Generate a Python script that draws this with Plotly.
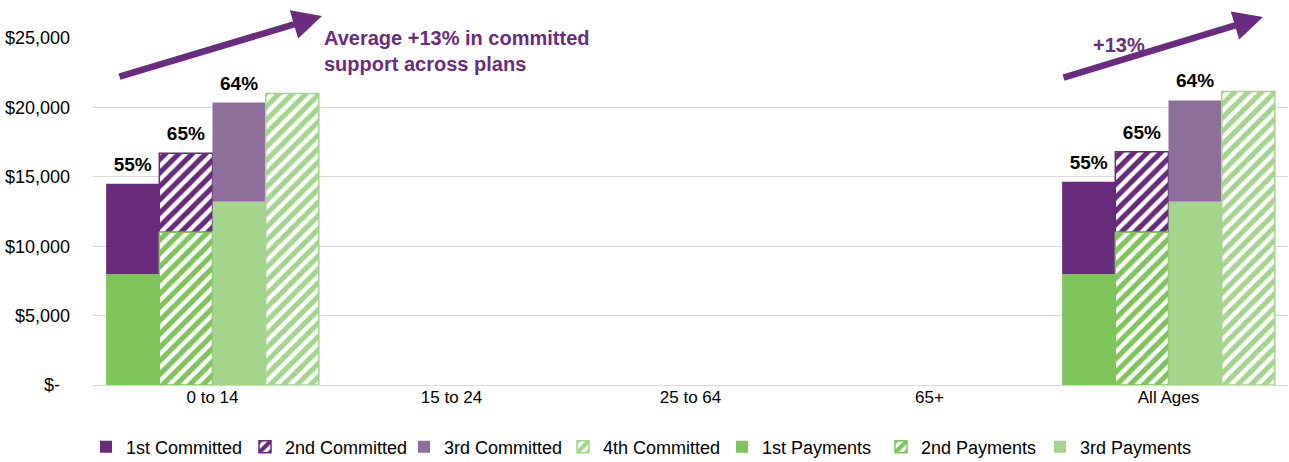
import plotly.graph_objects as go

categories = ["0 to 14", "15 to 24", "25 to 64", "65+", "All Ages"]
pay1 = [8000, None, None, None, 8000]
com1_total = [14500, None, None, None, 14650]
pay2 = [11000, None, None, None, 11000]
com2_total = [16700, None, None, None, 16800]
pay3 = [13200, None, None, None, 13200]
com3_total = [20350, None, None, None, 20500]
com4_total = [21000, None, None, None, 21150]
pct1 = ["55%", "", "", "", "55%"]
pct2 = ["65%", "", "", "", "65%"]
pct3 = ["64%", "", "", "", "64%"]
ytick_vals = [0, 5000, 10000, 15000, 20000, 25000]
ytick_text = ["$-  ", "$5,000", "$10,000", "$15,000", "$20,000", "$25,000"]

PURPLE = "#682A7B"
MAUVE = "#8E6F9C"
GREEN = "#7EC45A"
LGREEN = "#A5D48D"
FONT = "Liberation Sans, Arial, sans-serif"

# plot area: x 93..1288, y 38..385
W, H = 1289, 462
L, R, T, B = 93, 1, 38, 77
PW, PH = W - L - R, H - T - B
Y_MAX = 25000
LABEL_GAP_PX = 6  # extra gap between bar top and its % label
label_pad = LABEL_GAP_PX * Y_MAX / PH


def diff(top, base):
    return [None if t is None else t - b for t, b in zip(top, base)]


def hatch(color, line_color):
    return dict(color=color,
                pattern=dict(shape="/", fgcolor=color, fgopacity=1, bgcolor="white",
                             size=9.5, solidity=0.55),
                line=dict(color=line_color, width=1.5))


fig = go.Figure()
label_font = dict(family=FONT, size=19, color="black", weight="bold")

fig.add_bar(name="1st Committed", x=categories, y=diff(com1_total, pay1), base=pay1,
            offsetgroup="1", marker=dict(color=PURPLE, line=dict(width=0)))
fig.add_bar(name="2nd Committed", x=categories, y=diff(com2_total, pay2), base=pay2,
            offsetgroup="2", marker=hatch(PURPLE, PURPLE))
fig.add_bar(name="3rd Committed", x=categories, y=diff(com3_total, pay3), base=pay3,
            offsetgroup="3", marker=dict(color=MAUVE, line=dict(width=0)))
fig.add_bar(name="4th Committed", x=categories, y=com4_total,
            offsetgroup="4", marker=hatch(LGREEN, LGREEN))
fig.add_bar(name="1st Payments", x=categories, y=pay1,
            offsetgroup="1", marker=dict(color=GREEN, line=dict(width=0)))
fig.add_bar(name="2nd Payments", x=categories, y=pay2,
            offsetgroup="2", marker=hatch(GREEN, GREEN))
fig.add_bar(name="3rd Payments", x=categories, y=pay3,
            offsetgroup="3", marker=dict(color=LGREEN, line=dict(width=0)))

# transparent spacer bars carrying the percentage labels just above each committed bar
for grp, tops, txt in (("1", com1_total, pct1), ("2", com2_total, pct2), ("3", com3_total, pct3)):
    fig.add_bar(x=categories, y=[None if t is None else label_pad for t in tops], base=tops,
                offsetgroup=grp, showlegend=False, hoverinfo="skip",
                marker=dict(color="rgba(0,0,0,0)", line=dict(width=0)),
                text=txt, textposition="outside", textfont=label_font, cliponaxis=False)


def px(x):
    return (x - L) / PW


def py(y):
    return (H - B - y) / PH


ARROW = "#6A2C80"
fig.add_annotation(x=px(322), y=py(16), xref="paper", yref="paper",
                   ax=118 - 322, ay=77 - 16, axref="pixel", ayref="pixel",
                   showarrow=True, arrowhead=2, arrowsize=0.9, arrowwidth=6.5,
                   arrowcolor=ARROW, text="")
fig.add_annotation(x=px(1263), y=py(17), xref="paper", yref="paper",
                   ax=1062 - 1263, ay=78 - 17, axref="pixel", ayref="pixel",
                   showarrow=True, arrowhead=2, arrowsize=0.9, arrowwidth=6.5,
                   arrowcolor=ARROW, text="")
fig.add_annotation(x=px(322), y=py(25), xref="paper", yref="paper",
                   xanchor="left", yanchor="top", align="left", showarrow=False,
                   text="Average +13% in committed<br>support across plans",
                   font=dict(family=FONT, size=20, color=ARROW, weight="bold"))
fig.add_annotation(x=px(1091), y=py(45), xref="paper", yref="paper",
                   xanchor="left", yanchor="middle", showarrow=False,
                   text="+13%",
                   font=dict(family=FONT, size=20, color=ARROW, weight="bold"))

fig.update_layout(
    width=W, height=H,
    margin=dict(l=L, r=R, t=T, b=B, autoexpand=False),
    paper_bgcolor="white", plot_bgcolor="white",
    barmode="group", bargap=0.11, bargroupgap=0,
    font=dict(family=FONT, size=17, color="black"),
    showlegend=True,
    legend=dict(orientation="h", xref="container", yref="container",
                x=86 / W, xanchor="left", y=1 - 447 / H, yanchor="middle",
                font=dict(family=FONT, size=18), itemwidth=30, entrywidth=114,
                traceorder="normal", bgcolor="rgba(0,0,0,0)"),
    xaxis=dict(showgrid=False, showline=False, ticks="", tickfont=dict(size=17)),
    yaxis=dict(range=[0, Y_MAX], tickvals=ytick_vals, ticktext=ytick_text,
               showgrid=True, gridcolor="#D9D9D9", gridwidth=1,
               zeroline=True, zerolinecolor="#D9D9D9", zerolinewidth=1,
               showline=False, ticks="", ticklabelstandoff=22, tickfont=dict(size=18)),
)

fig.write_html("out.html", config={"displayModeBar": False},
               post_script="document.body.style.margin='0';document.body.style.overflow='hidden';")
